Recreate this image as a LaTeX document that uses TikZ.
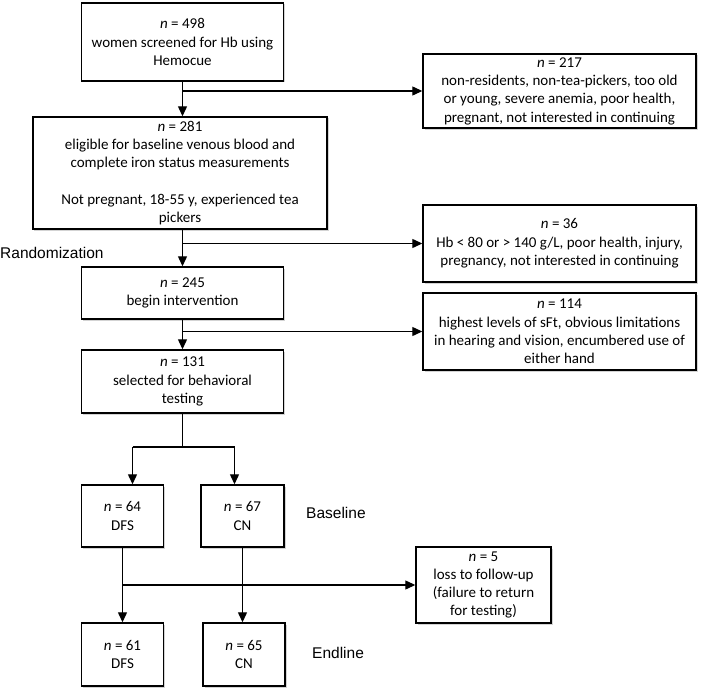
\documentclass[tikz,border=0pt]{standalone}
\usepackage{fontspec}
\setmainfont{Carlito}
\newfontfamily\sidefont{Liberation Sans}
\usepackage{tikz}
\usetikzlibrary{arrows.meta,shadows}
\newcommand{\boxfont}{\fontsize{15bp}{18.3bp}\selectfont}
\newcommand{\sidesize}{\sidefont\fontsize{15.5bp}{18bp}\selectfont}

\begin{document}
\begin{tikzpicture}[x=1bp,y=-1bp]
\tikzstyle{every node}+=[inner sep=0pt]
\tikzstyle{box}=[draw=black, line width=1.4bp, fill=white, align=center, font=\boxfont, drop shadow={shadow xshift=1.5bp, shadow yshift=-1.5bp, opacity=0.35}]
\tikzstyle{side}=[anchor=west, font=\sidesize]
\tikzstyle{wire}=[black, line width=1.2bp]
\tikzstyle{link}=[wire, -{Triangle[length=10bp,width=9bp]}]
\useasboundingbox (0,0) rectangle (702,691);
\draw (182.5,42) node [box, minimum width=202bp, minimum height=78bp] (screened) {\textit{n} = 498\\women screened for Hb using\\Hemocue};
\draw (559.5,91) node [box, minimum width=273bp, minimum height=74bp] (excl1) {\textit{n} = 217\\non-residents, non-tea-pickers, too old\\or young, severe anemia, poor health,\\pregnant, not interested in continuing};
\draw (180,173) node [box, minimum width=294bp, minimum height=112bp] (eligible) {\textit{n} = 281\\eligible for baseline venous blood and\\complete iron status measurements\\ \mbox{}\\Not pregnant, 18-55 y, experienced tea\\pickers};
\draw (559.5,243.5) node [box, minimum width=273bp, minimum height=77bp] (excl2) {\textit{n} = 36\\Hb < 80 or > 140 g/L, poor health, injury,\\pregnancy, not interested in continuing};
\draw (182.5,293) node [box, minimum width=202bp, minimum height=52bp] (begin) {\textit{n} = 245\\begin intervention};
\draw (559.5,331.5) node [box, minimum width=273bp, minimum height=77bp] (excl3) {\textit{n} = 114\\highest levels of sFt, obvious limitations\\in hearing and vision, encumbered use of\\either hand};
\draw (182.5,381.5) node [box, minimum width=202bp, minimum height=63bp] (behav) {\textit{n} = 131\\selected for behavioral\\testing};
\draw (122.5,516) node [box, minimum width=82bp, minimum height=62bp] (dfsA) {\textit{n} = 64\\DFS};
\draw (242.5,516) node [box, minimum width=83bp, minimum height=62bp] (cnA) {\textit{n} = 67\\CN};
\draw (483.5,585) node [box, minimum width=135bp, minimum height=76bp] (loss) {\textit{n} = 5\\loss to follow-up\\(failure to return\\for testing)};
\draw (122.5,654.5) node [box, minimum width=82bp, minimum height=63bp] (dfsB) {\textit{n} = 61\\DFS};
\draw (244,654.5) node [box, minimum width=82bp, minimum height=63bp] (cnB) {\textit{n} = 65\\CN};
\draw (0,253) node [side] (rand) {Randomization};
\draw (306,513) node [side] (base) {Baseline};
\draw (312,653) node [side] (end) {Endline};
\coordinate (split) at (182.5,447);
\coordinate (splitL) at (132.5,447);
\coordinate (splitR) at (234.5,447);
\draw [link] (screened.south) -- (screened.south |- eligible.north);
\draw [link] (screened.south |- excl1.west) -- (excl1.west);
\draw [link] (screened.south |- eligible.south) -- (screened.south |- begin.north);
\draw [link] (screened.south |- excl2.west) -- (excl2.west);
\draw [link] (begin.south) -- (behav.north);
\draw [link] (begin.south |- excl3.west) -- (excl3.west);
\draw [wire] (behav.south) -- (split);
\draw [wire] (splitL) -- (splitR);
\draw [link] (splitL) -- (splitL |- dfsA.north);
\draw [link] (splitR) -- (splitR |- cnA.north);
\draw [link] (dfsA.south) -- (dfsB.north);
\draw [link] (cnA.south) -- (cnA.south |- cnB.north);
\draw [link] (dfsA.south |- loss.west) -- (loss.west);
\end{tikzpicture}
\end{document}
